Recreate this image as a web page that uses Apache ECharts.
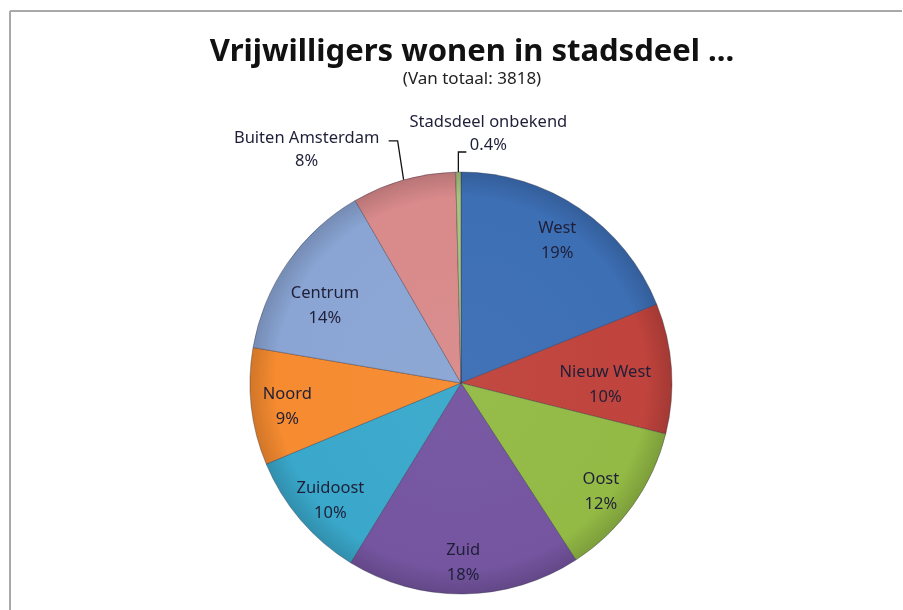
<!DOCTYPE html>
<html>
<head>
<meta charset="utf-8">
<script src="https://cdn.jsdelivr.net/npm/echarts@6/dist/echarts.min.js"></script>
<style>
html,body{margin:0;padding:0;background:#fff;}
#chart{width:903px;height:610px;}
</style>
</head>
<body>
<div id="chart"></div>
<script>
// ---- data ----
const titleText = 'Vrijwilligers wonen in stadsdeel ...';
const subtitleText = '(Van totaal: 3818)';
const categories = ['West', 'Nieuw West', 'Oost', 'Zuid', 'Zuidoost', 'Noord', 'Centrum', 'Buiten Amsterdam', 'Stadsdeel onbekend'];
const percentages = [19, 10, 12, 18, 10, 9, 14, 8, 0.4];
const outsideLabelCategories = ['Buiten Amsterdam', 'Stadsdeel onbekend'];

// ---- styles ----
const colors = ['#3D6FB5', '#C0433D', '#93BA45', '#7555A0', '#3AA8CB', '#F68B30', '#8AA5D4', '#D98A8B', '#A8C47C'];
const textColor = '#1f1f38';
const fontFamily = '"Noto Sans", sans-serif';
// fine label nudges (px) to mimic the reference's best-fit label placement
const insideLabelNudge = {
  'West': [0, 0], 'Nieuw West': [-27, 14], 'Oost': [0, 9], 'Zuid': [0, 8],
  'Zuidoost': [0, 6], 'Noord': [-3, 4], 'Centrum': [5, 21]
};

const chart = echarts.init(document.getElementById('chart'), null, {renderer: 'canvas'});

const CX = 461, CY = 383, R = 211;

function shade(hex, amt) {
  const n = parseInt(hex.slice(1), 16);
  let r = (n >> 16) & 255, g = (n >> 8) & 255, b = n & 255;
  const f = c => Math.max(0, Math.min(255, Math.round(amt >= 0 ? c + (255 - c) * amt : c * (1 + amt))));
  return 'rgb(' + f(r) + ',' + f(g) + ',' + f(b) + ')';
}

const mainData = categories.map((name, i) => {
  const isOut = outsideLabelCategories.includes(name);
  return {
    name: name,
    value: percentages[i],
    itemStyle: {
      color: new echarts.graphic.RadialGradient(CX, CY, R, [
        {offset: 0, color: shade(colors[i], 0.03)},
        {offset: 0.88, color: colors[i]},
        {offset: 1, color: shade(colors[i], -0.15)}
      ], true)
    },
    label: {show: isOut},
    labelLine: {show: isOut}
  };
});

const labelData = categories.map((name, i) => ({
  name: name,
  value: percentages[i],
  label: {show: !outsideLabelCategories.includes(name)}
}));

const option = {
  animation: false,
  backgroundColor: '#ffffff',
  title: {
    text: titleText,
    subtext: subtitleText,
    left: 467,
    textAlign: 'center',
    top: 32,
    itemGap: 3,
    textStyle: {fontFamily: fontFamily, fontWeight: 'bold', fontSize: 31, color: '#111111'},
    subtextStyle: {fontFamily: fontFamily, fontSize: 17, color: '#222222'}
  },
  graphic: [
    {type: 'line', shape: {x1: 10, y1: 11, x2: 902, y2: 11}, style: {stroke: '#a9a9a9', lineWidth: 2}},
    {type: 'line', shape: {x1: 10, y1: 11, x2: 10, y2: 610}, style: {stroke: '#a9a9a9', lineWidth: 2}}
  ],
  series: [
    {
      type: 'pie',
      center: [CX, CY],
      radius: [0, R],
      startAngle: 90,
      clockwise: true,
      avoidLabelOverlap: false,
      silent: true,
      itemStyle: {borderColor: 'rgba(40,40,60,0.35)', borderWidth: 1},
      label: {
        position: 'outside',
        formatter: '{b}\n{c}%',
        fontFamily: fontFamily,
        fontSize: 16.5,
        lineHeight: 23,
        color: textColor
      },
      labelLine: {show: true, length: 20, length2: 10, lineStyle: {color: '#111', width: 1.3}},
      labelLayout: function (p) {
        const pts = p.labelLinePoints;
        if (!pts) return {};
        const s = pts[0];
        const name = categories[p.dataIndex];
        if (name === 'Buiten Amsterdam') {
          return {
            x: s[0] - 97, y: s[1] - 30, align: 'center', verticalAlign: 'middle',
            labelLinePoints: [[s[0], s[1]], [s[0] - 6, s[1] - 39], [s[0] - 15, s[1] - 39]]
          };
        }
        if (name === 'Stadsdeel onbekend') {
          return {
            x: s[0] + 30, y: s[1] - 38, align: 'center', verticalAlign: 'middle',
            labelLinePoints: [[s[0], s[1]], [s[0], s[1] - 20], [s[0] + 8, s[1] - 20]]
          };
        }
        return {};
      },
      data: mainData
    },
    {
      type: 'pie',
      center: [CX, CY],
      radius: [R * 0.6, R],
      startAngle: 90,
      clockwise: true,
      silent: true,
      avoidLabelOverlap: false,
      itemStyle: {color: 'rgba(0,0,0,0)', borderWidth: 0},
      label: {
        position: 'inside',
        formatter: '{b}\n{c}%',
        fontFamily: fontFamily,
        fontSize: 16.5,
        lineHeight: 25,
        color: textColor
      },
      labelLine: {show: false},
      labelLayout: function (p) {
        const nd = insideLabelNudge[categories[p.dataIndex]];
        if (!nd) return {};
        return {dx: nd[0], dy: nd[1]};
      },
      data: labelData
    }
  ]
};

chart.setOption(option);
</script>
</body>
</html>
